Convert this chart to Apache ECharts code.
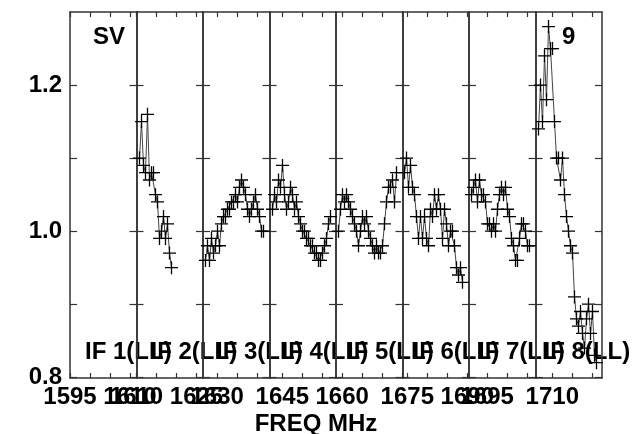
<!DOCTYPE html>
<html>
<head>
<meta charset="utf-8">
<script src="https://cdn.jsdelivr.net/npm/echarts@6/dist/echarts.min.js"></script>
<style>
html, body { margin: 0; padding: 0; background: #fff; }
#chart { width: 641px; height: 434px; }
</style>
</head>
<body>
<div id="chart"></div>
<script>
// frequency range of each IF panel (MHz)
var panelMin = [1595, 1610, 1626.45, 1641.8, 1658.45, 1673.8, 1690.45, 1705.8];
var panelSpan = 16.625;
var freqLabels = [[1595, 1610], [1610, 1625], [1630], [1645], [1660], [1675, 1690], [1695], [1710]];
var ifNames = ["IF 1(LL)", "IF 2(LL)", "IF 3(LL)", "IF 4(LL)", "IF 5(LL)", "IF 6(LL)", "IF 7(LL)", "IF 8(LL)"];
var yTicks = [0.8, 0.9, 1.0, 1.1, 1.2];
var yLabels = [0.8, 1.0, 1.2];

// first channel frequency of each IF, channel width
var chanStart = [null, 1610.75, 1627.075, 1642.55, 1659.075, 1674.3, 1691.075, 1706.55];
var chanWidth = 0.5;

// amplitudes per IF (IF 1 has no data)
var amp1 = [];
var amp2 = [1.10, 1.15, 1.09, 1.08, 1.16, 1.07, 1.08, 1.08, 1.05, 1.04, 0.99, 1.00, 1.02, 0.99, 1.01, 0.97, 0.95];
var amp3 = [0.96, 0.98, 0.96, 0.99, 0.97, 0.98, 1.00, 0.98, 1.01, 1.02, 1.02, 1.03, 1.03, 1.04, 1.04,
            1.05, 1.04, 1.06, 1.07, 1.06, 1.05, 1.03, 1.02, 1.03, 1.04, 1.05, 1.03, 1.02, 1.00, 1.00];
var amp4 = [1.03, 1.05, 1.04, 1.07, 1.06, 1.09, 1.05, 1.03, 1.04, 1.06, 1.05, 1.03, 1.04, 1.02, 1.01,
            1.00, 1.00, 0.99, 0.99, 0.98, 0.98, 0.97, 0.97, 0.96, 0.96, 0.97, 0.98, 0.99, 1.01, 1.02];
var amp5 = [1.00, 1.03, 1.05, 1.04, 1.05, 1.04, 1.03, 1.02, 1.01, 1.00, 0.98, 1.00, 1.02, 1.01, 1.02,
            1.00, 0.99, 0.98, 0.97, 0.98, 0.97, 0.97, 0.98, 1.01, 1.04, 1.06, 1.06, 1.07, 1.04, 1.08];
var amp6 = [1.08, 1.10, 1.06, 1.09, 1.06, 1.05, 1.02, 0.99, 1.02, 0.99, 1.02, 0.99, 0.98, 1.03, 1.02,
            1.05, 1.03, 1.05, 1.03, 0.99, 1.03, 1.01, 0.98, 1.00, 1.00, 0.98, 0.95, 0.94, 0.95, 0.93];
var amp7 = [1.05, 1.06, 1.07, 1.04, 1.07, 1.05, 1.05, 1.04, 1.01, 1.01, 1.00, 1.01, 1.00, 1.03, 1.05,
            1.06, 1.05, 1.06, 1.03, 1.02, 0.99, 0.98, 0.96, 0.96, 0.99, 1.01, 1.01, 1.00, 0.98, 0.98];
var amp8 = [1.14, 1.20, 1.15, 1.24, 1.18, 1.28, 1.25, 1.25, 1.15, 1.10, 1.10, 1.07, 1.10, 1.05, 1.02,
            1.00, 0.98, 0.97, 0.91, 0.88, 0.87, 0.89, 0.86, 0.84, 0.88, 0.90, 0.86, 0.89, 0.83, 0.82];
var amps = [amp1, amp2, amp3, amp4, amp5, amp6, amp7, amp8];

var plotLeft = 70, panelW = 66.5, plotTop = 12, plotH = 366;
var FONT = "Liberation Sans, Arial, sans-serif";
var lineCol = "#333";
var plus = "path://M5.4,0H6.6V5.4H12V6.6H6.6V12H5.4V6.6H0V5.4H5.4Z";

function fiveTicks(min, max) {
    let t = [];
    for (let v = Math.ceil(min / 5) * 5; v <= max; v += 5) t.push(v);
    return t;
}

var grids = [], xAxes = [], yAxes = [], series = [], texts = [];

panelMin.forEach(function (fmin, k) {
    let fmax = fmin + panelSpan;
    grids.push({ left: plotLeft + k * panelW, top: plotTop, width: panelW, height: plotH });

    let axisLine = { show: true, lineStyle: { color: lineCol, width: 1.5 } };
    xAxes.push({
        type: "value", gridIndex: k, position: "bottom", min: fmin, max: fmax,
        axisLine: axisLine,
        axisTick: { show: true, inside: true, length: 5, customValues: fiveTicks(fmin, fmax), lineStyle: { color: lineCol, width: 1.2 } },
        axisLabel: {
            show: true, customValues: freqLabels[k], margin: 7, color: "#000", fontSize: 24, fontWeight: "bold", fontFamily: FONT,
            formatter: function (v) { return String(v); }
        },
        splitLine: { show: false }
    });
    xAxes.push({
        type: "value", gridIndex: k, position: "top", min: fmin, max: fmax,
        axisLine: axisLine,
        axisTick: { show: true, inside: true, length: 5, customValues: fiveTicks(fmin, fmax), lineStyle: { color: lineCol, width: 1.2 } },
        axisLabel: { show: false },
        splitLine: { show: false }
    });
    yAxes.push({
        type: "value", gridIndex: k, position: "left", min: 0.799, max: 1.3,
        axisLine: axisLine,
        axisTick: { show: true, inside: true, length: 7, customValues: yTicks, lineStyle: { color: lineCol, width: 1.2 } },
        axisLabel: {
            show: k === 0, customValues: yLabels, margin: 8, color: "#000", fontSize: 24, fontWeight: "bold", fontFamily: FONT,
            formatter: function (v) { return v.toFixed(1); }
        },
        splitLine: { show: false }
    });
    yAxes.push({
        type: "value", gridIndex: k, position: "right", min: 0.799, max: 1.3,
        axisLine: axisLine,
        axisTick: { show: true, inside: true, length: 7, customValues: yTicks, lineStyle: { color: lineCol, width: 1.2 } },
        axisLabel: { show: false },
        splitLine: { show: false }
    });

    let data = amps[k].map(function (v, i) { return [chanStart[k] + i * chanWidth, v]; });
    series.push({
        type: "line", xAxisIndex: 2 * k, yAxisIndex: 2 * k, data: data,
        symbol: plus, symbolSize: 13, showAllSymbol: true,
        lineStyle: { color: "#444", width: 1 },
        itemStyle: { color: "#000" },
        animation: false, silent: true
    });

    texts.push({
        type: "text", x: 85 + k * 65.5, y: 352,
        style: { text: ifNames[k], font: "bold 24px " + FONT, fill: "#000", textVerticalAlign: "middle" }
    });
});

texts.push({ type: "text", x: 93, y: 37, style: { text: "SV", font: "bold 24px " + FONT, fill: "#000", textVerticalAlign: "middle" } });
texts.push({ type: "text", x: 562, y: 37, style: { text: "9", font: "bold 24px " + FONT, fill: "#000", textVerticalAlign: "middle" } });
texts.push({ type: "text", x: 316, y: 424, style: { text: "FREQ MHz", font: "bold 24px " + FONT, fill: "#000", textAlign: "center", textVerticalAlign: "middle" } });

var chart = echarts.init(document.getElementById("chart"), null, { renderer: "canvas" });
chart.setOption({
    animation: false,
    backgroundColor: "#fff",
    grid: grids,
    xAxis: xAxes,
    yAxis: yAxes,
    series: series,
    graphic: texts
});
</script>
</body>
</html>
